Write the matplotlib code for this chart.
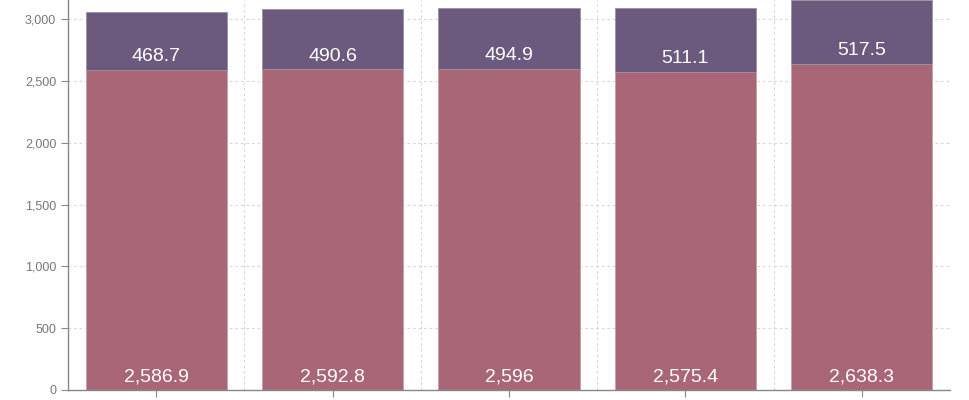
import matplotlib
matplotlib.use("Agg")
import matplotlib.pyplot as plt
from matplotlib.ticker import FuncFormatter, FixedLocator

categories = ["1", "2", "3", "4", "5"]
bottom_values = [2586.9, 2592.8, 2596, 2575.4, 2638.3]
top_values = [468.7, 490.6, 494.9, 511.1, 517.5]

plt.rcParams['font.family'] = ['Liberation Sans', 'DejaVu Sans']

fig = plt.figure(figsize=(9.7, 4.0), dpi=100)
ax = fig.add_axes([68/970, 10/400, 882/970, 390/400])

x = list(range(len(categories)))
c_bot = "#a96677"
c_top = "#6b5a7d"
ax.bar(x, bottom_values, width=0.8, color=c_bot, edgecolor="#c9a0ab", linewidth=0.6, zorder=2)
ax.bar(x, top_values, width=0.8, bottom=bottom_values, color=c_top, edgecolor="#9a92a2", linewidth=0.6, zorder=2)

def fmt(v):
    s = f"{v:,.1f}"
    if s.endswith(".0"):
        s = s[:-2]
    return s

for i in x:
    ax.annotate(fmt(bottom_values[i]), (i, 0), xytext=(0, 9.5), textcoords="offset points",
                ha="center", va="center", color="white", fontsize=14, zorder=3)
    ax.annotate(fmt(top_values[i]), (i, bottom_values[i]), xytext=(0, 9.5), textcoords="offset points",
                ha="center", va="center", color="white", fontsize=14, zorder=3)

ax.set_xlim(-0.5, 4.5)
ax.set_ylim(0, 3154)
ax.set_yticks([0, 500, 1000, 1500, 2000, 2500, 3000])
ax.yaxis.set_major_formatter(FuncFormatter(lambda v, p: f"{int(v):,}"))
ax.set_xticks(x)
ax.set_xticklabels([])
ax.xaxis.set_minor_locator(FixedLocator([0.5, 1.5, 2.5, 3.5, 4.5]))
ax.tick_params(axis="x", which="minor", length=0)
ax.tick_params(axis="both", which="major", length=5, color="#888888", labelcolor="#777777", labelsize=9, direction="out")

ax.grid(axis="y", which="major", linestyle=(0, (2.5, 2.5)), color="#d8d8d8", linewidth=0.8, zorder=0)
ax.grid(axis="x", which="minor", linestyle=(0, (2.5, 2.5)), color="#d8d8d8", linewidth=0.8, zorder=0)
ax.set_axisbelow(True)

for s in ["top", "right"]:
    ax.spines[s].set_visible(False)
for s in ["left", "bottom"]:
    ax.spines[s].set_color("#888888")
    ax.spines[s].set_linewidth(1.0)

fig.savefig("out.png", dpi=100)
